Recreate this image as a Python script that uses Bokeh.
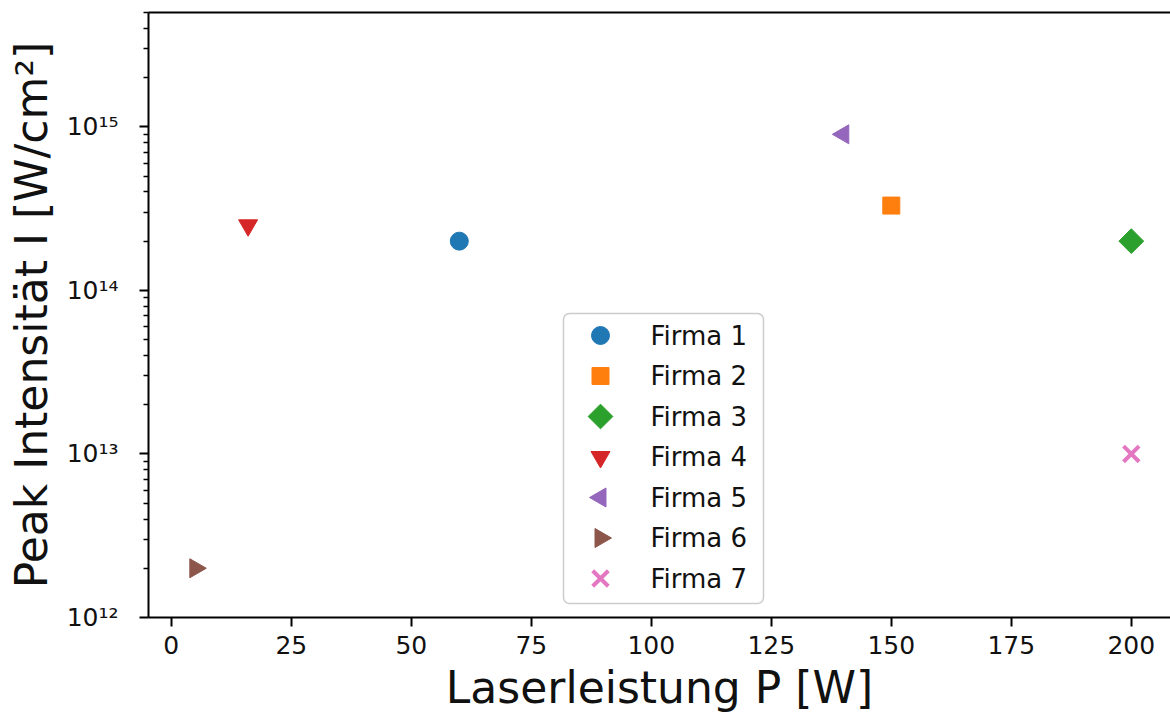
import math
from bokeh.plotting import figure
from bokeh.models import Range1d, FixedTicker, LinearAxis, LinearScale
from bokeh.core.properties import value
from bokeh.embed import file_html
from bokeh.resources import INLINE

# ---- data ----
firmen = ["Firma 1", "Firma 2", "Firma 3", "Firma 4", "Firma 5", "Firma 6", "Firma 7"]
leistung_w = [60, 150, 200, 16, 140, 5, 200]
intensitaet = [2.0e14, 3.3e14, 2.0e14, 2.5e14, 9.0e14, 2.0e12, 1.0e13]
x_ticks = [0, 25, 50, 75, 100, 125, 150, 175, 200]
y_ticks = [1e12, 1e13, 1e14, 1e15]
y_tick_labels = ["10¹²", "10¹³", "10¹⁴", "10¹⁵"]

# ---- style ----
colors = ["#1f77b4", "#ff7f0e", "#2ca02c", "#d62728", "#9467bd", "#8c564b", "#e377c2"]
markers = ["circle", "square", "square", "inverted_triangle", "triangle", "triangle", "x"]
angles = [0, 0, math.pi / 4, 0, math.pi / 2, -math.pi / 2, 0]
sizes = [18, 17, 17.5, 19, 19, 19, 22]
FONT = "DejaVu Sans"
TXT = "#111111"

FW, FH = 1022, 605  # frame size in px
p = figure(width=1170, height=715, output_backend="svg", toolbar_location=None,
           y_axis_type="log",
           x_range=Range1d(-4.75, -4.75 + FW / 4.8), y_range=Range1d(1e12, 5e15),
           min_border_left=148, min_border_right=0, min_border_top=12, min_border_bottom=98)
p.outline_line_color = None
p.xgrid.visible = False
p.ygrid.visible = False
p.background_fill_color = "white"

# pixel-space ranges for the legend box (layout only)
p.extra_x_ranges = {"lx": Range1d(0, FW)}
p.extra_y_ranges = {"ly": Range1d(0, FH)}
p.extra_y_scales = {"ly": LinearScale()}


def draw_marker(i, x, y, **extra):
    kw = dict(marker=markers[i], size=sizes[i], angle=angles[i], **extra)
    if markers[i] == "x":
        return p.scatter(x, y, line_color=colors[i], line_width=4, **kw)
    return p.scatter(x, y, fill_color=colors[i], line_color=colors[i], **kw)


for i in range(len(firmen)):
    draw_marker(i, [leistung_w[i]], [intensitaet[i]])

# axes
for ax in (p.xaxis[0], p.yaxis[0]):
    ax.axis_line_width = 2
    ax.major_tick_line_width = 2
    ax.minor_tick_line_width = 1.5
    ax.major_tick_out = 9
    ax.major_tick_in = 0
    ax.minor_tick_out = 5
    ax.minor_tick_in = 0
    ax.major_label_text_font = FONT
    ax.major_label_text_color = TXT
    ax.axis_label_text_font = FONT
    ax.axis_label_text_font_style = "normal"
    ax.axis_label_text_font_size = "44px"
    ax.axis_label_text_color = TXT

p.xaxis.ticker = FixedTicker(ticks=x_ticks)
p.xaxis.minor_tick_line_color = None
p.xaxis.axis_label = "Laserleistung P [W]"
p.xaxis.major_label_text_font_size = "25px"
p.xaxis.major_label_standoff = 9
p.xaxis.axis_label_standoff = 5

minor = [m * 10 ** e for e in range(12, 16) for m in range(2, 10)]
p.yaxis.ticker = FixedTicker(ticks=y_ticks, minor_ticks=minor)
p.yaxis.major_label_overrides = {t: l for t, l in zip(y_ticks, y_tick_labels)}
p.yaxis.axis_label = "Peak Intensität I [W/cm²]"
p.yaxis.major_label_standoff = 21
p.yaxis.axis_label_standoff = 7
p.yaxis.major_label_text_font_size = "25px"

top = LinearAxis(ticker=FixedTicker(ticks=[]), axis_line_width=2,
                 major_tick_line_color=None, minor_tick_line_color=None)
p.add_layout(top, "above")

# ---- legend (drawn in frame pixel space) ----
LEG_L, LEG_R, LEG_B, LEG_T = 415, 615, 14, 304
ROW0, PITCH = 282, 40.5
box = p.quad(left=[LEG_L], right=[LEG_R], bottom=[LEG_B], top=[LEG_T],
             fill_color="white", fill_alpha=0.8, line_color="#cccccc", line_width=1.5,
             x_range_name="lx", y_range_name="ly")
try:
    box.glyph.border_radius = 6
except Exception:
    pass
rows_y = [ROW0 - PITCH * k for k in range(len(firmen))]
for i in range(len(firmen)):
    draw_marker(i, [LEG_L + 37], [rows_y[i]], x_range_name="lx", y_range_name="ly")
p.text(x=[LEG_L + 87] * len(firmen), y=rows_y, text=firmen,
       text_font=value(FONT), text_font_size="26px", text_color=TXT,
       text_baseline="middle", text_align="left",
       x_range_name="lx", y_range_name="ly")

open("out.html", "w").write(file_html(p, INLINE))
